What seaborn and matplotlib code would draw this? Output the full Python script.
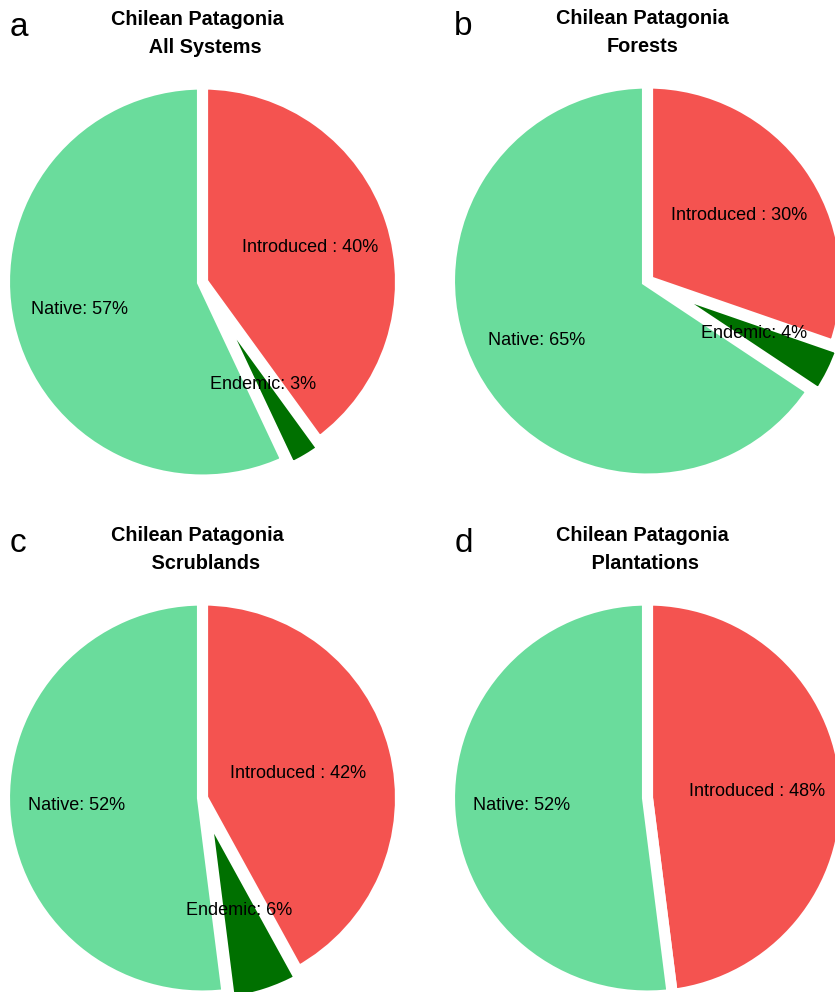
# %%
import numpy as np
import pandas as pd
import matplotlib
matplotlib.use("Agg")
import matplotlib.pyplot as plt
import seaborn as sns

sns.set_theme(style="white")
plt.rcParams["font.family"] = ["Liberation Sans", "DejaVu Sans"]
plt.rcParams["text.color"] = "black"

# %%
# share of species per origin (%), Chilean Patagonia
panel_letters = ["a", "b", "c", "d"]
systems = ["All Systems", "Forests", "Scrublands", "Plantations"]
title_pad = ["   ", "", "   ", " "]
introduced = [40, 30, 42, 48]
endemic = [3, 4, 6, 0]
native = [57, 65, 52, 52]

colors = {"Introduced": "#F45350", "Endemic": "#007000", "Native": "#6ADC9C"}

df = pd.DataFrame(
    {"system": systems, "Introduced": introduced, "Endemic": endemic, "Native": native}
)

# %%
W, H = 835, 992
fig = plt.figure(figsize=(W / 100, H / 100), dpi=100)

R = 198  # pie radius in px
centers = [(202.5, 282), (647.5, 281), (202.5, 798), (647.5, 798)]
# where the text sits along each wedge (fraction of radius)
intro_dist = [0.57, 0.57, 0.5, 0.555]
text_dist = {"Endemic": 0.6, "Native": 0.635}

for i, row in df.iterrows():
    cx, cy = centers[i]
    ax = fig.add_axes([(cx - R) / W, (H - cy - R) / H, 2 * R / W, 2 * R / H])

    names, vals, labels = [], [], []
    for name, fmt in [("Introduced", "Introduced : {}%"), ("Endemic", "Endemic: {}%"), ("Native", "Native: {}%")]:
        if row[name] > 0:
            names.append(name)
            vals.append(row[name])
            labels.append(fmt.format(row[name]))

    explode = [0.04 if n == "Endemic" else 0 for n in names]
    wedges, texts = ax.pie(
        vals,
        labels=labels,
        colors=[colors[n] for n in names],
        startangle=90,
        counterclock=False,
        explode=explode,
        labeldistance=0.6,
        wedgeprops=dict(edgecolor="white", linewidth=8, clip_on=False),
        textprops=dict(fontsize=13, color="black"),
    )
    # put the labels along the wedge bisector, centred
    for n, w, t in zip(names, wedges, texts):
        d = intro_dist[i] if n == "Introduced" else text_dist[n]
        ang = np.deg2rad((w.theta1 + w.theta2) / 2)
        t.set_position((d * np.cos(ang), d * np.sin(ang)))
        t.set_ha("center")
        t.set_va("center")

    ax.set_xlim(-1, 1)
    ax.set_ylim(-1, 1)
    ax.set_title(
        "Chilean Patagonia\n" + title_pad[i] + row["system"],
        fontsize=14.3,
        fontweight="bold",
        color="black",
        pad=22,
        linespacing=1.65,
        x=0.487,
    )
    ax.text(0.012, 1.12, panel_letters[i], transform=ax.transAxes, fontsize=24,
            ha="left", va="baseline", color="black")

fig.savefig("out.png", dpi=100)
